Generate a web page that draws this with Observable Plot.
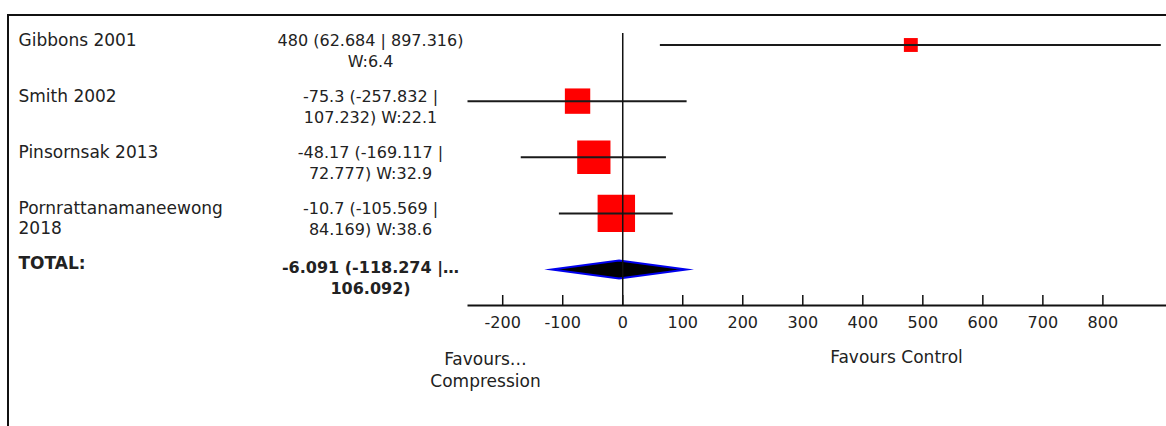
<!DOCTYPE html>
<html><head><meta charset="utf-8">
<script src="https://cdn.jsdelivr.net/npm/d3@7"></script>
<script src="https://cdn.jsdelivr.net/npm/@observablehq/plot@0.6"></script>
<style>
html,body{margin:0;padding:0;background:#fff;}
#wrap{position:relative;width:1166px;height:426px;overflow:hidden;background:#fff;}
#border{position:absolute;left:7px;top:14px;width:1300px;height:600px;border-top:2px solid #111;border-left:2px solid #111;}
#chart{position:absolute;left:0;top:0;}
</style></head><body>
<div id="wrap"><div id="chart"></div><div id="border"></div></div>
<script>
// ---- data ----
const studies = ["Gibbons 2001", "Smith 2002", "Pinsornsak 2013", "Pornrattanamaneewong 2018"];
const effects = [480, -75.3, -48.17, -10.7];
const lowers  = [62.684, -257.832, -169.117, -105.569];
const uppers  = [897.316, 107.232, 72.777, 84.169];
const weights = [6.4, 22.1, 32.9, 38.6];
const totalLabel = "TOTAL:";
const totalEst = -6.091, totalLo = -118.274, totalHi = 106.092;
const xTicks = [-200, -100, 0, 100, 200, 300, 400, 500, 600, 700, 800];
const leftFavour = "Favours…\nCompression";
const rightFavour = "Favours Control";

// ---- build tables ----
function ciLabel(e, l, h, w) {
  const head = `${e} (${l} | ${h})`;
  return head.length <= 22 ? `${head}\nW:${w}` : `${e} (${l} |\n${h}) W:${w}`;
}
const rows = studies.map((s, i) => ({
  study: s, pos: i, est: effects[i], lo: lowers[i], hi: uppers[i], w: weights[i],
  label: ciLabel(effects[i], lowers[i], uppers[i], weights[i])
}));
const totalPos = studies.length;
const total = [{study: totalLabel, pos: totalPos, label: `${totalEst} (${totalLo} |…\n${totalHi})`}];
const dh = 0.16; // diamond half height (row units)
const diamond = [
  {x: totalLo, y: totalPos}, {x: totalEst, y: totalPos - dh},
  {x: totalHi, y: totalPos}, {x: totalEst, y: totalPos + dh}, {x: totalLo, y: totalPos}
];

const font = "DejaVu Sans";
const ink = "#222";

const chart = Plot.plot({
  width: 1166, height: 426,
  marginLeft: 468, marginRight: 0, marginTop: 33, marginBottom: 121,
  style: {fontFamily: font, background: "transparent", overflow: "visible"},
  x: {domain: [-257, 906], axis: null},
  y: {type: "linear", domain: [0, totalPos], range: [44.5, 269], axis: null},
  r: {type: "linear", domain: [0, 40], range: [5.2, 21.7]},
  marks: [
    Plot.dot(rows, {x: "est", y: "pos", r: "w", symbol: "square", fill: "#ff0000", stroke: null}),
    Plot.line(diamond, {x: "x", y: "y", fill: "#000", stroke: "#0000ee", strokeWidth: 2,
      strokeLinejoin: "miter", strokeMiterlimit: 10, curve: "linear-closed"}),
    Plot.ruleY(rows, {y: "pos", x1: "lo", x2: "hi", stroke: "#1a1a1a", strokeWidth: 2}),
    Plot.ruleX([0], {stroke: "#111", strokeWidth: 1.5}),
    Plot.frame({anchor: "bottom", stroke: "#111", strokeWidth: 2}),
    Plot.tickX(xTicks, {x: d => d, insetTop: 262, stroke: "#111", strokeWidth: 1.5}),
    Plot.axisX(xTicks, {tickSize: 0, tickPadding: 11, fontSize: 16, fill: ink, tickFormat: d => String(d), label: null}),
    // study names
    Plot.text(rows, {y: "pos", text: "study", frameAnchor: "left", textAnchor: "start", dx: -450, dy: -13,
      lineAnchor: "top", lineWidth: 12, lineHeight: 1.15, fontSize: 17, fill: ink}),
    // estimates
    Plot.text(rows, {y: "pos", text: "label", frameAnchor: "left", textAnchor: "middle", dx: -98, dy: -14,
      lineAnchor: "top", lineHeight: 1.3, fontSize: 16, fill: ink}),
    // total row
    Plot.text(total, {y: "pos", text: "study", frameAnchor: "left", textAnchor: "start", dx: -450, dy: -13,
      lineAnchor: "top", fontSize: 17, fontWeight: "bold", fill: ink}),
    Plot.text(total, {y: "pos", text: "label", frameAnchor: "left", textAnchor: "middle", dx: -98, dy: -12,
      lineAnchor: "top", lineHeight: 1.35, fontSize: 16, fontWeight: "bold", fill: ink}),
    // favours labels
    Plot.text([leftFavour], {frameAnchor: "bottom-left", dx: 17, dy: 44, lineAnchor: "top", lineHeight: 1.3,
      textAnchor: "middle", fontSize: 17, fill: ink}),
    Plot.text([rightFavour], {frameAnchor: "bottom-right", dx: -270, dy: 45, lineAnchor: "top",
      textAnchor: "middle", fontSize: 17, fill: ink})
  ]
});
document.getElementById("chart").appendChild(chart);
</script>
</body></html>
